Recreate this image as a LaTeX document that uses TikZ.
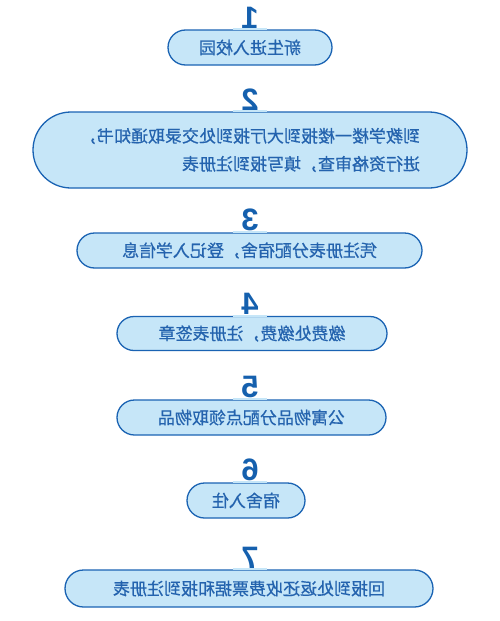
\documentclass[tikz,border=0pt]{standalone}
\usepackage{fontspec}
\setmainfont{Liberation Sans}
\newfontfamily\cjk[FakeBold=0.6]{Noto Sans CJK SC}
\usepackage{xcolor}
\usetikzlibrary{shapes.misc,positioning}

\definecolor{stepline}{HTML}{1A63B3}
\definecolor{stepfill}{HTML}{C6E6F8}
\definecolor{steptext}{HTML}{2463AE}
\definecolor{stepnum}{HTML}{1560AE}

\tikzset{
    stagebox/.style={rounded rectangle, draw=stepline, fill=stepfill, line width=1.3pt,
        text=steptext, font=\cjk\fontsize{17}{28}\selectfont, inner sep=0pt,
        minimum height=35pt, xscale=-1},
    stagenum/.style={text=stepnum, font=\bfseries\fontsize{31}{31}\selectfont,
        inner sep=0pt, xscale=-1, anchor=south}
}

\begin{document}
\begin{tikzpicture}[x=1pt, y=-1pt]
    \useasboundingbox (0,0) rectangle (500,621);

    % Stages
    \node[stagebox, minimum width=164pt] (s1) at (250,47.5) {新生进入校园};
    \node[stagebox, minimum width=434pt, minimum height=76pt, align=left] (s2) at (250,150)
        {到教学楼一楼报到大厅报到处交录取通知书，\\进行资格审查，填写报到注册表};
    \node[stagebox, minimum width=345pt] (s3) at (249.5,250.5) {凭注册表分配宿舍，登记入学信息};
    \node[stagebox, minimum width=270pt, minimum height=34pt] (s4) at (252,333.5) {缴费处缴费，注册表签章};
    \node[stagebox, minimum width=269pt] (s5) at (251.5,417.5) {公寓物品分配点领取物品};
    \node[stagebox, minimum width=118pt] (s6) at (246,500.5) {宿舍入住};
    \node[stagebox, minimum width=368pt, minimum height=37pt] (s7) at (249,588.5) {回报到处返还收费票据和报到注册表};

    % Numbers
    \foreach \i in {1,...,7} {
        \fill[stepfill] ([xshift=-17pt,yshift=1pt]s\i.north -| 250,0) rectangle ([xshift=17pt,yshift=-1pt]s\i.north -| 250,0);
        \node[stagenum] (n\i) at ([yshift=1pt]s\i.north -| 250,0) {\i};
    }
\end{tikzpicture}
\end{document}
